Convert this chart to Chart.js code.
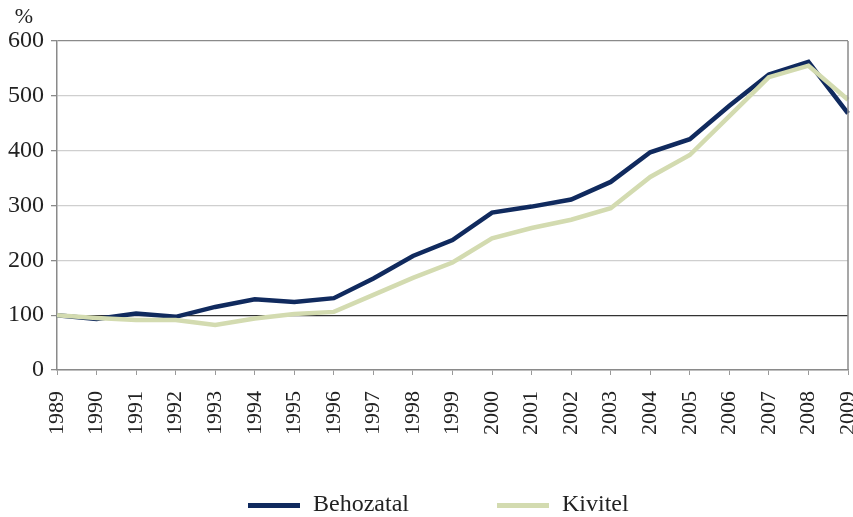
<!DOCTYPE html>
<html>
<head>
<meta charset="utf-8">
<script src="https://cdn.jsdelivr.net/npm/chart.js@4.4.1/dist/chart.umd.min.js"></script>
<style>
  html, body { margin: 0; padding: 0; background: #fff; }
  #wrap { position: relative; width: 853px; height: 517px; }
  #legend { position: absolute; left: 0; top: 488px; width: 853px; height: 30px;
    font-family: "Liberation Serif", "DejaVu Serif", serif; font-size: 24px; color: #222; }
  .item { position: absolute; top: 0; line-height: 30px; }
  .swatch { display: inline-block; width: 52px; height: 5px; vertical-align: middle; margin-right: 13px; }
</style>
</head>
<body>
<div id="wrap">
  <canvas id="chart" width="853" height="517"></canvas>
  <div id="legend"></div>
</div>
<script>
const years = ['1989','1990','1991','1992','1993','1994','1995','1996','1997','1998','1999',
  '2000','2001','2002','2003','2004','2005','2006','2007','2008','2009'];
const behozatal = [100, 93, 103, 97, 115, 129, 124, 131, 167, 208, 237, 287, 298, 311, 343, 397, 421, 482, 539, 562, 468];
const kivitel = [100, 95, 91, 91, 82, 94, 102, 106, 137, 168, 196, 240, 259, 274, 295, 352, 392, 463, 534, 555, 493];
const seriesNames = ['Behozatal', 'Kivitel'];
const seriesColours = ['#102a5e', '#d3dbb0'];

const serif = '"Liberation Serif", "DejaVu Serif", serif';

// plot frame: right border and the "%" unit above the y axis
const framePlugin = {
  id: 'frame',
  afterDraw: function (chart) {
    const ctx = chart.ctx;
    const area = chart.chartArea;
    ctx.save();
    ctx.strokeStyle = '#8a8a8a';
    ctx.lineWidth = 1.5;
    ctx.beginPath();
    ctx.moveTo(area.right, area.top);
    ctx.lineTo(area.right, area.bottom);
    ctx.stroke();
    ctx.fillStyle = '#222';
    ctx.font = '22px ' + serif;
    ctx.textAlign = 'center';
    ctx.textBaseline = 'bottom';
    ctx.fillText('%', 24, 28);
    ctx.restore();
  }
};

const chart = new Chart(document.getElementById('chart'), {
  type: 'line',
  data: {
    labels: years,
    datasets: [
      { label: seriesNames[0], data: behozatal, borderColor: seriesColours[0], backgroundColor: seriesColours[0], order: 1 },
      { label: seriesNames[1], data: kivitel, borderColor: seriesColours[1], backgroundColor: seriesColours[1], order: 0 }
    ]
  },
  options: {
    responsive: false,
    animation: false,
    layout: { padding: { top: 41, right: 5, left: 0, bottom: 0 } },
    elements: {
      line: { borderWidth: 4.5, tension: 0 },
      point: { radius: 0 }
    },
    plugins: {
      legend: { display: false },
      tooltip: { enabled: false }
    },
    scales: {
      x: {
        offset: false,
        grid: { drawOnChartArea: false, tickLength: 5, tickColor: '#9a9a9a' },
        border: { color: '#8a8a8a', width: 1.5 },
        ticks: { minRotation: 90, maxRotation: 90, padding: 16, color: '#222', font: { family: serif, size: 22 } },
        afterFit: function (scale) {
          scale.height = 147;
          scale.paddingLeft = 0;
          scale.paddingRight = 0;
        }
      },
      y: {
        min: 0,
        max: 600,
        ticks: { stepSize: 100, padding: 7, color: '#222', font: { family: serif, size: 24 } },
        grid: {
          tickLength: 6,
          tickColor: '#8a8a8a',
          lineWidth: function (c) { return c.tick && c.tick.value === 100 ? 1.2 : 1.3; },
          color: function (c) {
            if (!c.tick) return '#cfcfcf';
            if (c.tick.value === 100) return '#333';
            if (c.tick.value === 600) return '#8a8a8a';
            return '#cfcfcf';
          }
        },
        border: { color: '#8a8a8a', width: 1.5 },
        afterFit: function (scale) { scale.width = 57; }
      }
    }
  },
  plugins: [framePlugin]
});

// html legend under the chart
const legendBox = document.getElementById('legend');
const legendX = [248, 497];
seriesNames.forEach(function (name, i) {
  const item = document.createElement('div');
  item.className = 'item';
  item.style.left = legendX[i] + 'px';
  item.innerHTML = '<span class="swatch" style="background:' + seriesColours[i] + '"></span>' + name;
  legendBox.appendChild(item);
});
</script>
</body>
</html>
